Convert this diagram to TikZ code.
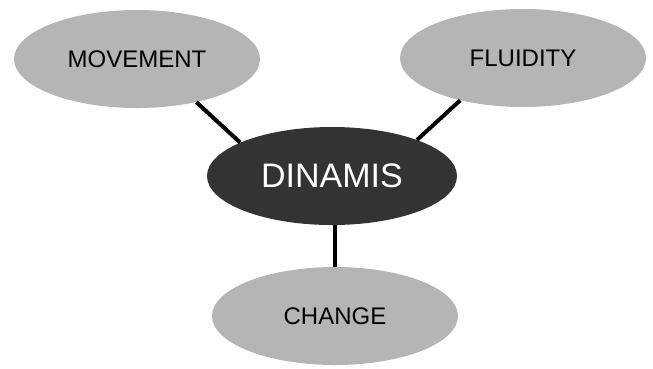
\documentclass[tikz,border=0pt]{standalone}
\usepackage{fontspec}
\setmainfont{Liberation Sans}
\usetikzlibrary{shapes.geometric}
\definecolor{bubblegray}{HTML}{B5B5B5}
\definecolor{hubgray}{HTML}{333333}

\begin{document}
\begin{tikzpicture}[x=1pt,y=-1pt,
    bubble/.style={ellipse,fill=bubblegray,minimum width=246pt,minimum height=98pt,inner sep=0pt,font=\fontsize{24}{28}\selectfont},
    hub/.style={ellipse,fill=hubgray,text=white,minimum width=250pt,minimum height=98pt,inner sep=0pt,font=\fontsize{34}{40}\selectfont},
    link/.style={line width=4pt}]
    \useasboundingbox (0,0) rectangle (653,368);
    %\draw[very thin,color=gray] (0,0) grid[step=50] (653,368);
    \node[hub] (dinamis) at (332,176) {DINAMIS};
    \node[bubble] (movement) at (137,59) {MOVEMENT};
    \node[bubble] (fluidity) at (523,58) {FLUIDITY};
    \node[bubble] (change) at (335,316) {CHANGE};
    \draw[link] (movement.-36) -- (dinamis.160);
    \draw[link] (fluidity.-146) -- (dinamis.23);
    \draw[link] (change.north) -- (change.north |- dinamis.south);
\end{tikzpicture}
\end{document}
